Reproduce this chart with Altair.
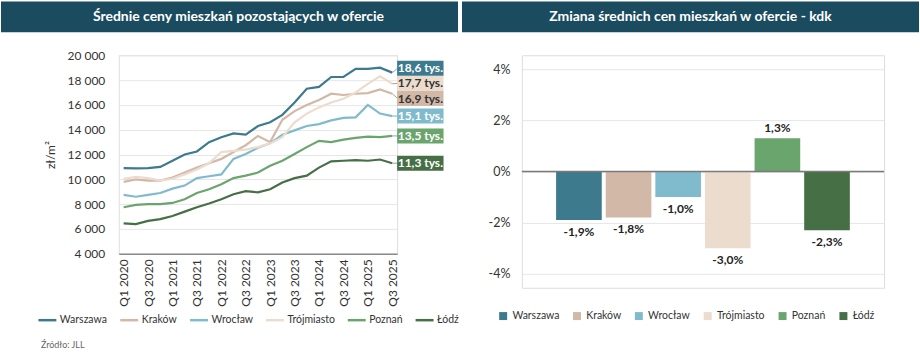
import altair as alt
import pandas as pd

FONT = "Lato"
HDR = "#1a4b5f"

quarters = ["Q1 2020", "Q2 2020", "Q3 2020", "Q4 2020", "Q1 2021", "Q2 2021", "Q3 2021", "Q4 2021",
            "Q1 2022", "Q2 2022", "Q3 2022", "Q4 2022", "Q1 2023", "Q2 2023", "Q3 2023", "Q4 2023",
            "Q1 2024", "Q2 2024", "Q3 2024", "Q4 2024", "Q1 2025", "Q2 2025", "Q3 2025"]
cities = ["Warszawa", "Kraków", "Wrocław", "Trójmiasto", "Poznań", "Łódź"]
colors = ["#3d7a8e", "#d2b8a6", "#80bbcd", "#ecdccd", "#6ba56e", "#466f46"]
badge_text_colors = ["#ffffff", "#333333", "#ffffff", "#333333", "#ffffff", "#ffffff"]

warszawa = [10900, 10880, 10900, 11000, 11500, 12000, 12250, 13000, 13400, 13700, 13600, 14300,
            14600, 15200, 16200, 17300, 17450, 18250, 18250, 18900, 18900, 19000, 18600]
krakow = [9800, 10000, 9900, 9900, 10150, 10550, 10950, 11300, 11650, 12200, 12750, 13500,
          13000, 14800, 15500, 16000, 16400, 16900, 16800, 16900, 16950, 17250, 16900]
wroclaw = [8750, 8600, 8750, 8900, 9250, 9500, 10100, 10250, 10400, 11650, 12050, 12550,
           12900, 13600, 13950, 14300, 14450, 14750, 14950, 15000, 16000, 15300, 15100]
trojmiasto = [10050, 10200, 10100, 9900, 10050, 10400, 10800, 11300, 12200, 12300, 12400, 12600,
              12900, 13400, 14600, 15300, 15800, 16200, 16500, 17000, 17700, 18300, 17700]
poznan = [7750, 7950, 8000, 8000, 8100, 8400, 8900, 9200, 9600, 10100, 10300, 10550,
          11100, 11500, 12050, 12600, 13100, 13000, 13200, 13350, 13450, 13400, 13500]
lodz = [6450, 6400, 6650, 6800, 7050, 7400, 7750, 8050, 8400, 8800, 9050, 8950,
        9200, 9750, 10100, 10300, 10950, 11450, 11500, 11550, 11500, 11600, 11300]
series = [warszawa, krakow, wroclaw, trojmiasto, poznan, lodz]

change_qoq = [-1.9, -1.8, -1.0, -3.0, 1.3, -2.3]

title_left = "Średnie ceny mieszkań pozostających w ofercie"
title_right = "Zmiana średnich cen mieszkań w ofercie - kdk"
source_text = "Źródło: JLL"


def pl(v, d=1):
    return f"{v:.{d}f}".replace(".", ",")


def spread(vals, gap):
    pos = list(vals)
    order = sorted(range(len(vals)), key=lambda k: -vals[k])
    for _ in range(300):
        for a, b in zip(order[:-1], order[1:]):
            diff = pos[a] - pos[b]
            if diff < gap:
                push = (gap - diff) / 2
                pos[a] += push
                pos[b] -= push
    return pos


def header(title, x1, x2, tx):
    d = pd.DataFrame({"t": [title]})
    rect = alt.Chart(d).mark_rect(color=HDR).encode(
        x=alt.value(x1), x2=alt.value(x2), y=alt.value(-54), y2=alt.value(-23))
    txt = alt.Chart(d).mark_text(color="white", font=FONT, fontSize=14, fontWeight="bold").encode(
        text="t:N", x=alt.value(tx), y=alt.value(-38.5))
    return rect + txt


# ---------------- left panel ----------------
rows = []
for c, s in zip(cities, series):
    for i, v in enumerate(s):
        rows.append({"city": c, "i": i, "v": v})
df = pd.DataFrame(rows)

xscale = alt.Scale(domain=[-0.4, 22.4], nice=False, zero=False)
yscale = alt.Scale(domain=[4000, 20000], nice=False, zero=False)
q_arr = "[" + ",".join(f"'{q}'" for q in quarters) + "]"

x_axis = alt.Axis(values=list(range(0, 23, 2)), labelExpr=q_arr + "[datum.value]", labelAngle=270,
                  labelFontSize=12, labelColor="#333333", labelPadding=5, ticks=False, grid=False,
                  domainColor="#8a8a8a", domainWidth=1.5, title=None, labelFont=FONT,
                  labelOverlap=False)
y_axis = alt.Axis(values=list(range(4000, 20001, 2000)),
                  labelExpr="replace(format(datum.value, ','), ',', ' ')",
                  labelFontSize=12, labelColor="#333333", labelPadding=14, ticks=False, domain=False,
                  gridColor="#e6e6e6", gridWidth=1, title="zł/m²", titleFontSize=12,
                  titleFontWeight="normal", titleColor="#333333", titlePadding=10,
                  labelFont=FONT, titleFont=FONT, labelOverlap=False)

lines = alt.Chart(df).mark_line(strokeWidth=2.2).encode(
    x=alt.X("i:Q", scale=xscale, axis=x_axis),
    y=alt.Y("v:Q", scale=yscale, axis=y_axis),
    color=alt.Color("city:N", sort=cities, scale=alt.Scale(domain=cities, range=colors),
                    legend=alt.Legend(orient="none", legendX=-82, legendY=255, direction="horizontal",
                                      columns=6, symbolType="stroke", symbolSize=324,
                                      symbolStrokeWidth=2.5, labelFontSize=10.5, labelColor="#333333",
                                      labelFont=FONT, labelOffset=2, columnPadding=7, title=None)),
)

last = [s[-1] for s in series]
pos = spread(last, 1220)
bdf = pd.DataFrame({
    "city": cities, "last": last, "pos": pos,
    "lab": [pl(v / 1000) + " tys." for v in last],
    "fill": colors, "tcol": badge_text_colors,
})

connectors = alt.Chart(bdf).mark_rule(color="#a0a0a0", strokeWidth=1).encode(
    x=alt.X(datum=22.0, scale=xscale, axis=x_axis), x2=alt.X2(datum=22.45),
    y=alt.Y("last:Q", scale=yscale, axis=y_axis), y2="pos:Q")
badges = alt.Chart(bdf).mark_point(shape="M-1.55,-0.5H1.55V0.5H-1.55Z", size=900,
                                   filled=True, opacity=1, strokeWidth=0).encode(
    x=alt.X(datum=24.3, scale=xscale, axis=x_axis),
    y=alt.Y("pos:Q", scale=yscale, axis=y_axis),
    color=alt.Color("fill:N", scale=None))
badge_txt = alt.Chart(bdf).mark_text(font=FONT, fontSize=12, fontWeight="bold").encode(
    x=alt.X(datum=24.3, scale=xscale, axis=x_axis),
    y=alt.Y("pos:Q", scale=yscale, axis=y_axis),
    text="lab:N",
    color=alt.Color("tcol:N", scale=None))

src = alt.Chart(pd.DataFrame({"t": [source_text]})).mark_text(
    align="left", font=FONT, fontSize=9, color="#666666").encode(
    text="t:N", x=alt.value(-78), y=alt.value(290))

left = alt.layer(header(title_left, -118, 340, 120), lines, connectors, badges, badge_txt, src).properties(
    width=279, height=199)

# ---------------- right panel ----------------
bars_df = pd.DataFrame({"city": cities, "v": change_qoq,
                        "lab": [pl(v) + "%" for v in change_qoq]})
rscale = alt.Scale(domain=[-4.55, 4.55], nice=False, zero=False)
r_axis = alt.Axis(values=[-4, -2, 0, 2, 4], labelExpr="datum.value + '%'", labelFontSize=12.5,
                  labelColor="#333333", labelPadding=12, ticks=False, domain=False,
                  gridColor="#e6e6e6", title=None, labelFont=FONT, labelOverlap=False)
xb = alt.X("city:N", sort=cities, scale=alt.Scale(paddingInner=0.08, paddingOuter=0.69), axis=None)

bars = alt.Chart(bars_df).mark_bar().encode(
    x=xb,
    y=alt.Y("v:Q", scale=rscale, axis=r_axis),
    color=alt.Color("city:N", sort=cities, scale=alt.Scale(domain=cities, range=colors),
                    legend=alt.Legend(orient="none", legendX=-24, legendY=256, direction="horizontal",
                                      columns=6, symbolType="square", symbolSize=64,
                                      labelFontSize=10.5, labelColor="#333333", labelFont=FONT,
                                      labelOffset=4, columnPadding=12, title=None)),
)
zero = alt.Chart(pd.DataFrame({"z": [0]})).mark_rule(color="#7a7a7a", strokeWidth=1.5).encode(
    y=alt.Y("z:Q", scale=rscale, axis=r_axis))
lab_neg = alt.Chart(bars_df).transform_filter("datum.v < 0").mark_text(
    font=FONT, fontSize=12, fontWeight="bold", color="#222222", dy=12).encode(
    x=xb, y=alt.Y("v:Q", scale=rscale, axis=r_axis), text="lab:N")
lab_pos = alt.Chart(bars_df).transform_filter("datum.v >= 0").mark_text(
    font=FONT, fontSize=12, fontWeight="bold", color="#222222", dy=-10).encode(
    x=xb, y=alt.Y("v:Q", scale=rscale, axis=r_axis), text="lab:N")

right = alt.layer(header(title_right, -60, 398, 169), bars, zero, lab_neg, lab_pos).properties(
    width=363, height=233)

chart = alt.hconcat(left, right, spacing=125, bounds="flush").resolve_scale(
    color="independent").resolve_legend(color="independent").properties(
    padding=0, background="white"
).configure_view(stroke=None).configure(font=FONT)

chart.save("out.html", embed_options={"renderer": "svg", "actions": False})
